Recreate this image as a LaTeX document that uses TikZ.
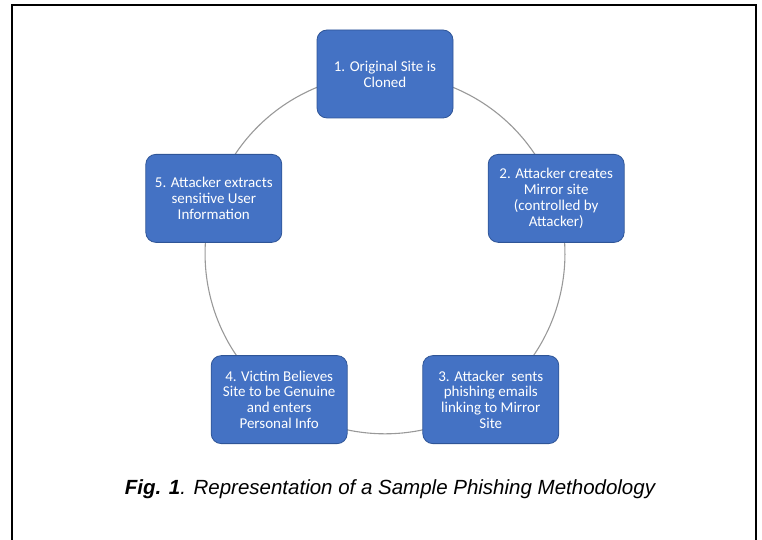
\documentclass[tikz,border=0pt]{standalone}
\usepackage{fontspec}
\setmainfont{Liberation Sans}
\newfontfamily\boxfont{Carlito}
\usetikzlibrary{backgrounds}
\definecolor{boxblue}{HTML}{4472C4}
\definecolor{boxedge}{HTML}{2F5597}

\begin{document}
\begin{tikzpicture}[x=1pt, y=1pt,
    box/.style={draw=boxedge, fill=boxblue, rounded corners=10pt, line width=0.8pt,
                minimum width=136pt, minimum height=88pt, align=center, text=white,
                font=\boxfont\fontsize{15}{15.8}\selectfont},
    link/.style={draw=black!40, line width=1.1pt, bend left=36, looseness=0.94}
]
\useasboundingbox (0,0) rectangle (762,540);
\draw[line width=2pt] (12,-5) -- (12,535) -- (756,535) -- (756,-5);
\begin{scope}[shift={(385,286)}]
\node[box] (clone) at (90:180) {1. Original Site is\\Cloned};
\node[box] (mirror) at (18:180) {2. Attacker creates\\Mirror site\\(controlled by\\Attacker)};
\node[box] (emails) at (-54:180) {3. Attacker\ \ sents\\phishing emails\\linking to Mirror\\Site};
\node[box] (victim) at (-126:180) {4. Victim Believes\\Site to be Genuine\\and enters\\Personal Info};
\node[box] (extract) at (162:180) {5. Attacker extracts\\sensitive User\\Information};
\end{scope}
\begin{scope}[on background layer]
\draw[link] (clone.center) to (mirror.center);
\draw[link] (mirror.center) to (emails.center);
\draw[link] (emails.center) to (victim.center);
\draw[link] (victim.center) to (extract.center);
\draw[link] (extract.center) to (clone.center);
\end{scope}
\node[font=\fontsize{20.5}{24}\selectfont\itshape] (caption) at (390,51)
      {\textbf{Fig. 1}. Representation of a Sample Phishing Methodology};
\end{tikzpicture}
\end{document}
